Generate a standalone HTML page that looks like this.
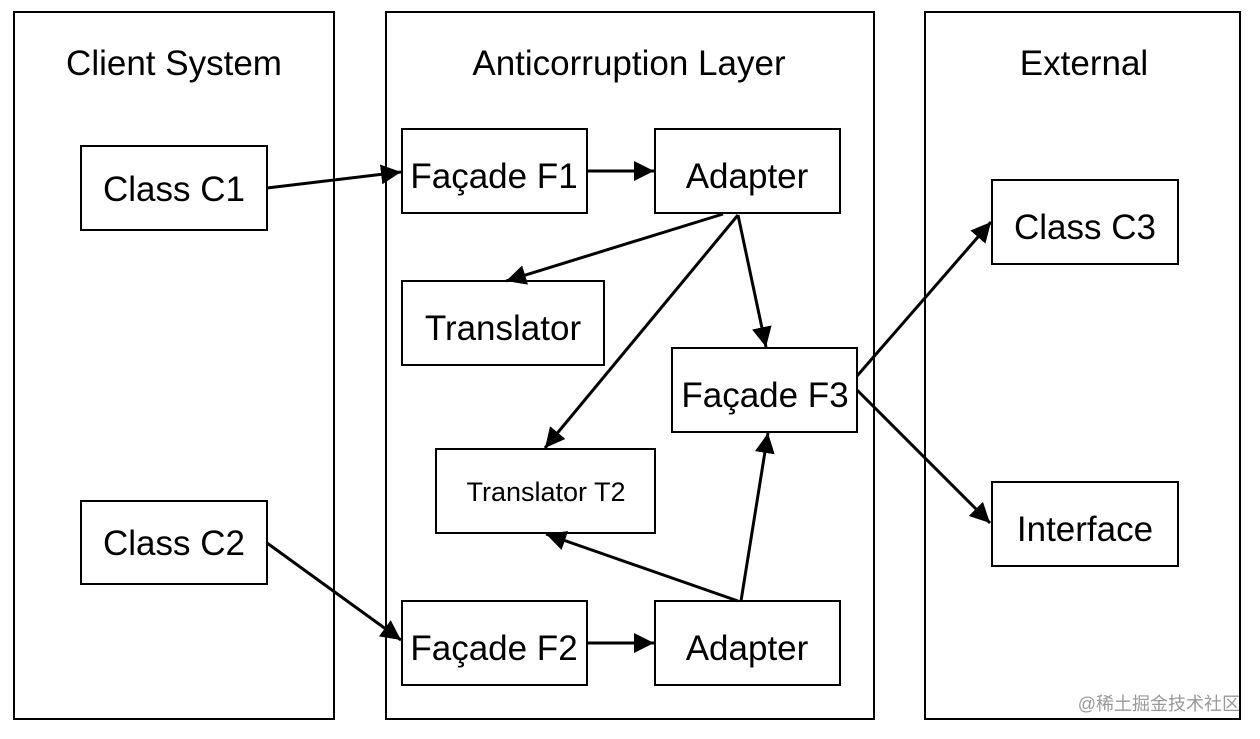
<!DOCTYPE html>
<html><head><meta charset="utf-8"><style>
html,body{margin:0;padding:0;background:#fff;}
svg text{font-family:"Liberation Sans",Arial,sans-serif;fill:#000;}
</style></head><body>
<svg width="1260" height="734" viewBox="0 0 1260 734" xmlns="http://www.w3.org/2000/svg">
<defs>
<marker id="ah" viewBox="0 0 20 20" refX="20" refY="10" markerWidth="20" markerHeight="20" markerUnits="userSpaceOnUse" orient="auto">
<path d="M0,0 L20,10 L0,20 z" fill="#000"/>
</marker>
</defs>
<g fill="none" stroke="#000" stroke-width="2">
<rect x="14" y="12" width="320" height="707"/>
<rect x="386" y="12" width="488" height="707"/>
<rect x="925" y="12" width="315" height="707"/>
<rect x="81" y="146" width="186" height="84"/>
<rect x="81" y="501" width="186" height="83"/>
<rect x="402" y="129" width="185" height="84"/>
<rect x="655" y="129" width="185" height="84"/>
<rect x="402" y="281" width="202" height="84"/>
<rect x="672" y="348" width="185" height="84"/>
<rect x="436" y="449" width="219" height="84"/>
<rect x="402" y="601" width="185" height="84"/>
<rect x="655" y="601" width="185" height="84"/>
<rect x="992" y="180" width="186" height="84"/>
<rect x="992" y="482" width="186" height="84"/>
</g>
<g stroke="#000" stroke-width="3" fill="none" marker-end="url(#ah)">
<line x1="267" y1="188" x2="401" y2="172"/>
<line x1="587" y1="171" x2="654" y2="171"/>
<line x1="723" y1="214" x2="506" y2="281"/>
<line x1="738" y1="215" x2="545" y2="448"/>
<line x1="738" y1="215" x2="766" y2="347"/>
<line x1="857" y1="376" x2="991" y2="222"/>
<line x1="857" y1="390" x2="990" y2="523"/>
<line x1="267" y1="543" x2="401" y2="640"/>
<line x1="587" y1="643" x2="654" y2="643"/>
<line x1="741" y1="601" x2="768" y2="433"/>
<line x1="738" y1="601" x2="546" y2="534"/>
</g>
<g font-size="35" text-anchor="middle">
<text x="174" y="75">Client System</text>
<text x="629" y="75">Anticorruption Layer</text>
<text x="1084" y="75">External</text>
<text x="174" y="201">Class C1</text>
<text x="174" y="555">Class C2</text>
<text x="494" y="188">Façade F1</text>
<text x="747" y="188">Adapter</text>
<text x="503" y="340">Translator</text>
<text x="765" y="407">Façade F3</text>
<text x="494" y="660">Façade F2</text>
<text x="747" y="660">Adapter</text>
<text x="1085" y="239">Class C3</text>
<text x="1085" y="541">Interface</text>
<text x="546" y="501" font-size="27">Translator T2</text>
</g>
<text x="1240" y="710" text-anchor="end" font-size="18" style="fill:#999;font-family:'Liberation Sans','Noto Sans CJK SC',sans-serif">@稀土掘金技术社区</text>
</svg>
</body></html>
